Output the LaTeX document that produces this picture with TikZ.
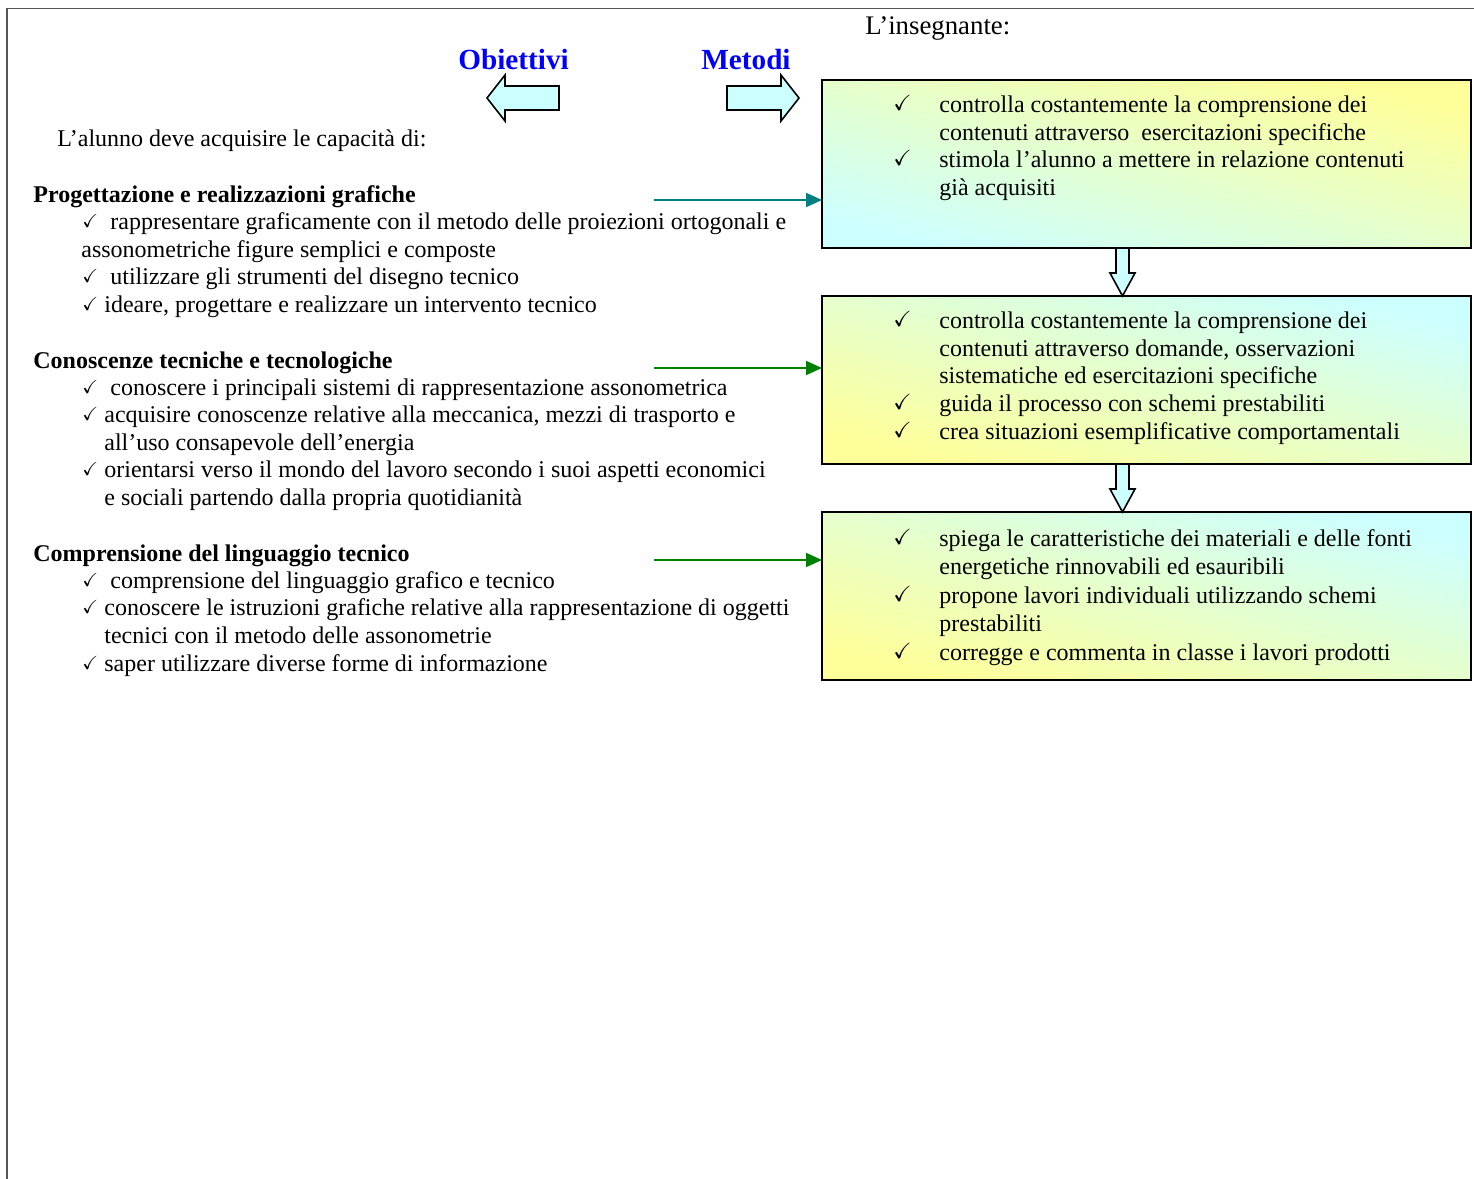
\documentclass[tikz,border=0pt]{standalone}
\usepackage{amssymb}
\usepackage{fontspec}
\setmainfont{Liberation Serif}
\usetikzlibrary{arrows.meta,calc}

\definecolor{boxyellow}{RGB}{255,255,153}
\definecolor{boxcyan}{RGB}{204,255,255}
\definecolor{tealline}{RGB}{0,128,128}
\definecolor{greenline}{RGB}{0,128,0}
\definecolor{framegray}{RGB}{85,85,85}

\begin{document}
\begin{tikzpicture}[x=0.5pt,y=-0.5pt,
    txt/.style={anchor=base west, inner sep=0pt, font=\fontsize{12}{13.8}\selectfont},
    bold/.style={txt, font=\fontsize{12}{13.8}\selectfont\bfseries},
    title/.style={txt, font=\fontsize{14.6}{16}\selectfont\bfseries, text=blue},
    ltick/.style={anchor=base west, inner sep=0pt, font=\fontsize{9.5}{10}\selectfont},
    rtick/.style={anchor=base west, inner sep=0pt, font=\fontsize{11}{12}\selectfont},
    methodbox/.style={draw=black, line width=1pt, anchor=north west, inner sep=0pt,
        outer sep=0pt, minimum width=324.5pt, minimum height=84pt},
    blockarrow/.style={draw=black, line width=0.8pt, fill=boxcyan, line join=miter},
    link/.style={line width=1pt, -{Triangle[length=8pt,width=7pt]}}]
    \useasboundingbox (0,0) rectangle (1474,1179);
    \draw [framegray, line width=0.8pt] (7,1179) -- (7,8.5) -- (1474,8.5);

    % titoli
    \node [title] (obiettivi) at (458,69) {Obiettivi};
    \node [title] (metodi) at (701,69) {Metodi};
    \node [txt, font=\fontsize{13.4}{15}\selectfont] (insegnante) at (865,34) {L’insegnante:};
    \draw [blockarrow] (559,86) -- (505,86) -- (505,75) -- (487,98) -- (505,121) -- (505,110) -- (559,110) -- cycle;
    \draw [blockarrow] (727,86) -- (781,86) -- (781,75) -- (799,98) -- (781,121) -- (781,110) -- (727,110) -- cycle;

    % obiettivi
    \node [txt] (intro) at (57,146) {L’alunno deve acquisire le capacità di:};
    \node [bold] (prog) at (33,202) {Progettazione e realizzazioni grafiche};
    \node [ltick] (pt1) at (82,227) {$\checkmark$};
    \node [txt] (p1) at (110,229) {rappresentare graficamente con il metodo delle proiezioni ortogonali e};
    \node [txt] (p1b) at (81,257) {assonometriche figure semplici e composte};
    \node [ltick] (pt2) at (82,282) {$\checkmark$};
    \node [txt] (p2) at (110,284) {utilizzare gli strumenti del disegno tecnico};
    \node [ltick] (pt3) at (82,310) {$\checkmark$};
    \node [txt] (p3) at (104,312) {ideare, progettare e realizzare un intervento tecnico};

    \node [bold] (cono) at (33,368) {Conoscenze tecniche e tecnologiche};
    \node [ltick] (ct1) at (82,393) {$\checkmark$};
    \node [txt] (c1) at (110,395) {conoscere i principali sistemi di rappresentazione assonometrica};
    \node [ltick] (ct2) at (82,420) {$\checkmark$};
    \node [txt] (c2) at (104,422) {acquisire conoscenze relative alla meccanica, mezzi di trasporto e};
    \node [txt] (c2b) at (104,450) {all’uso consapevole dell’energia};
    \node [ltick] (ct3) at (82,475) {$\checkmark$};
    \node [txt] (c3) at (104,477) {orientarsi verso il mondo del lavoro secondo i suoi aspetti economici};
    \node [txt] (c3b) at (104,505) {e sociali partendo dalla propria quotidianità};

    \node [bold] (comp) at (33,561) {Comprensione del linguaggio tecnico};
    \node [ltick] (lt1) at (82,586) {$\checkmark$};
    \node [txt] (l1) at (110,588) {comprensione del linguaggio grafico e tecnico};
    \node [ltick] (lt2) at (82,613) {$\checkmark$};
    \node [txt] (l2) at (104,615) {conoscere le istruzioni grafiche relative alla rappresentazione di oggetti};
    \node [txt] (l2b) at (104,643) {tecnici con il metodo delle assonometrie};
    \node [ltick] (lt3) at (82,669) {$\checkmark$};
    \node [txt] (l3) at (104,671) {saper utilizzare diverse forme di informazione};

    % metodi
    \node [methodbox, top color=boxyellow, bottom color=boxcyan, shading angle=-14.5] (box1) at (822,80) {};
    \node [rtick] (mt1) at (893,110) {$\checkmark$};
    \node [txt] (m1) at (939,112) {controlla costantemente la comprensione dei};
    \node [txt] (m1b) at (939,140) {contenuti attraverso\ \ esercitazioni specifiche};
    \node [rtick] (mt2) at (893,165) {$\checkmark$};
    \node [txt] (m2) at (939,167) {stimola l’alunno a mettere in relazione contenuti};
    \node [txt] (m2b) at (939,195) {già acquisiti};

    \node [methodbox, top color=boxcyan, bottom color=boxyellow, shading angle=-14.5] (box2) at (822,296) {};
    \node [rtick] (nt1) at (893,326) {$\checkmark$};
    \node [txt] (n1) at (939,328) {controlla costantemente la comprensione dei};
    \node [txt] (n1b) at (939,356) {contenuti attraverso domande, osservazioni};
    \node [txt] (n1c) at (939,383) {sistematiche ed esercitazioni specifiche};
    \node [rtick] (nt2) at (893,409) {$\checkmark$};
    \node [txt] (n2) at (939,411) {guida il processo con schemi prestabiliti};
    \node [rtick] (nt3) at (893,437) {$\checkmark$};
    \node [txt] (n3) at (939,439) {crea situazioni esemplificative comportamentali};

    \node [methodbox, top color=boxcyan, bottom color=boxyellow, shading angle=-14.5] (box3) at (822,512) {};
    \node [rtick] (st1) at (893,544) {$\checkmark$};
    \node [txt] (s1) at (939,546) {spiega le caratteristiche dei materiali e delle fonti};
    \node [txt] (s1b) at (939,574) {energetiche rinnovabili ed esauribili};
    \node [rtick] (st2) at (893,601) {$\checkmark$};
    \node [txt] (s2) at (939,603) {propone lavori individuali utilizzando schemi};
    \node [txt] (s2b) at (939,631) {prestabiliti};
    \node [rtick] (st3) at (893,658) {$\checkmark$};
    \node [txt] (s3) at (939,660) {corregge e commenta in classe i lavori prodotti};

    % frecce tra i riquadri
    \draw [blockarrow] ($(box1.south west)+(294,0)$) -- ++(0,25) -- ++(-6,0)
        -- ($(box2.north west)+(300.5,0)$) -- ++(12.5,-23) -- ++(-6,0) -- ++(0,-25) -- cycle;
    \draw [blockarrow] ($(box2.south west)+(294,0)$) -- ++(0,25) -- ++(-6,0)
        -- ($(box3.north west)+(300.5,0)$) -- ++(12.5,-23) -- ++(-6,0) -- ++(0,-25) -- cycle;

    % collegamenti obiettivi -> metodi
    \coordinate (from1) at (654,200);
    \coordinate (from2) at (654,368);
    \coordinate (from3) at (654,560);
    \draw [link, tealline] (from1) -- (from1 -| box1.west);
    \draw [link, greenline] (from2) -- (from2 -| box2.west);
    \draw [link, greenline] (from3) -- (from3 -| box3.west);
\end{tikzpicture}
\end{document}
